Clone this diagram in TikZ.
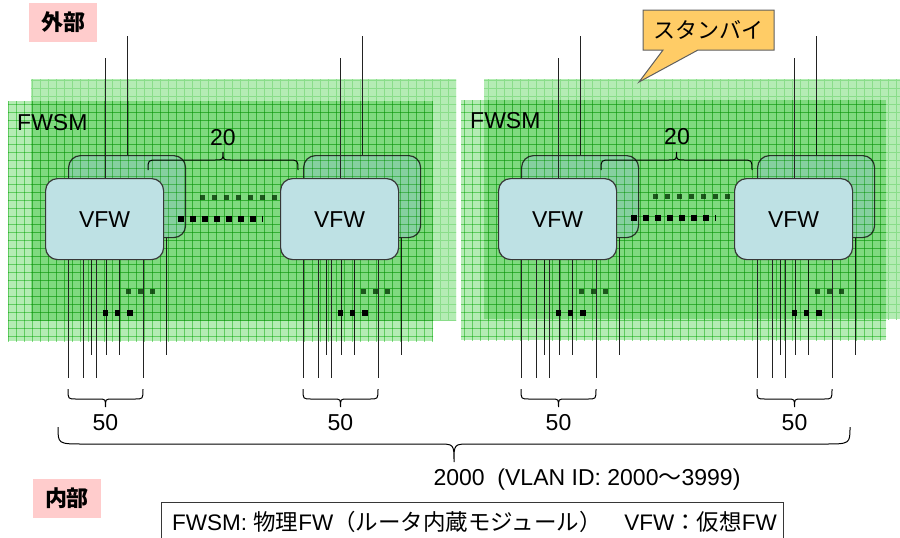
\documentclass[tikz,border=0pt]{standalone}
\usepackage{fontspec}
\setmainfont{Liberation Sans}
\newfontfamily\jp{Noto Sans CJK JP}
\definecolor{panelgreen}{RGB}{180,236,180}
\definecolor{gridgreen}{RGB}{138,221,138}
\definecolor{vfwblue}{RGB}{190,225,228}
\definecolor{boxline}{RGB}{55,55,55}
\definecolor{wirec}{RGB}{35,35,35}
\definecolor{backdot}{RGB}{40,95,40}
\definecolor{pinkbg}{RGB}{255,204,204}
\definecolor{calloutbg}{RGB}{255,204,102}
\definecolor{calloutline}{RGB}{95,95,95}

% textured green panel: flat fill plus a fine grid
\newcommand\greenpanel[4]{%
  \fill[panelgreen] ({#1},{#2}) rectangle ({#3},{#4});
  \begin{scope}
    \clip ({#1},{#2}) rectangle ({#3},{#4});
    \foreach \gx in {0,8,...,904}
      \draw[gridgreen, line width=0.55pt] (\gx,0) -- (\gx,540);
    \foreach \gy in {0,8,...,544}
      \draw[gridgreen, line width=0.55pt] (0,\gy) -- (904,\gy);
  \end{scope}}

% horizontal curly brace: x1, x2, y of ends, y of bar, y of tip, end radius, tip radius
\newcommand\hbrace[7]{%
  \draw[bracestyle] (#1,#3) .. controls (#1,#4) .. ({#1+#6},#4)
    -- ({(#1+#2)/2-#7},#4) .. controls ({(#1+#2)/2},#4) .. ({(#1+#2)/2},#5)
    .. controls ({(#1+#2)/2},#4) .. ({(#1+#2)/2+#7},#4)
    -- ({#2-#6},#4) .. controls (#2,#4) .. (#2,#3);}

% rear VFW of a pair: #1 name, #2 left x of the front VFW
\newcommand\vfwback[2]{%
  \node[backbox, anchor=north west] (#1b) at ({#2+23},155) {};
  \draw[wire] ([xshift=59pt]#1b.north west) -- ++(0,-119);
  \foreach \d in {23,38,51,98}
    \draw[wire] ([xshift=\d pt]#1b.south west) -- ++(0,117);
  \foreach \d in {60.5,72.5,84.5}
    \fill[backdot] ({#2+23+\d-2.5},288.5) rectangle ++(5,5);}

% front VFW of a pair with its 50 links
\newcommand\vfwfront[2]{%
  \node[frontbox, anchor=north west] (#1f) at (#2,178) {VFW};
  \draw[wire] ([xshift=60pt]#1f.north west) -- ++(0,-120);
  \foreach \d in {23,38,51,98}
    \draw[wire] ([xshift=\d pt]#1f.south west) -- ++(0,118);
  \foreach \d in {60.5,72.5,85}
    \fill[black] ({#2+\d-2.75},310.25) rectangle ++(5.5,5.5);
  \hbrace{#2+23}{#2+98}{389}{399}{407}{8}{7}
  \node[lbl] (#1n) at ({#2+60.5},423) {50};}

\begin{document}
\begin{tikzpicture}[x=1pt, y=-1pt,
  frontbox/.style={draw=boxline, line width=1.2pt, fill=vfwblue, rounded corners=12pt,
    minimum width=118pt, minimum height=81pt, inner sep=0pt, font=\fontsize{23}{26}\selectfont},
  backbox/.style={draw=boxline, line width=1.2pt, fill=vfwblue, rounded corners=12pt,
    minimum width=117pt, minimum height=82pt, inner sep=0pt},
  wire/.style={draw=wirec, line width=0.9pt},
  bracestyle/.style={draw=black, line width=1pt},
  lbl/.style={font=\fontsize{23}{26}\selectfont, inner sep=0pt},
  tag/.style={fill=pinkbg, minimum width=68pt, minimum height=39pt, inner sep=0pt,
    font=\jp\bfseries\fontsize{22}{24}\selectfont}]
\useasboundingbox (0,0) rectangle (900,538);

% ---------- rear layer ----------
\greenpanel{31}{79}{456}{320}
\greenpanel{484}{79}{909}{319}
\vfwback{la}{45}
\vfwback{lb}{280}
\vfwback{ra}{498}
\vfwback{rb}{734}
\draw[backdot, line width=5pt, dash pattern=on 5pt off 7pt] (200,197) -- (281,197);
\draw[backdot, line width=5pt, dash pattern=on 5pt off 7pt] (653,196) -- (734,196);

% ---------- front layer ----------
\begin{scope}[blend mode=multiply]
  \greenpanel{8}{101}{433}{341}
  \greenpanel{461}{100}{886}{340}
\end{scope}

\node[lbl, anchor=west] (fwsmL) at (17,123) {FWSM};
\node[lbl, anchor=west] (fwsmR) at (470,121) {FWSM};

\vfwfront{la}{45}
\vfwfront{lb}{280}
\vfwfront{ra}{498}
\vfwfront{rb}{734}

\draw[black, line width=6pt, dash pattern=on 6pt off 6pt] (178,219) -- (263,219);
\draw[black, line width=6pt, dash pattern=on 6pt off 6pt] (631,218) -- (716,218);

\hbrace{148}{298}{170}{160}{152}{10}{8}
\node[lbl] (twentyL) at (223,138) {20};
\hbrace{601}{752}{170}{160}{152}{10}{8}
\node[lbl] (twentyR) at (677,137) {20};

% overall VLAN brace
\hbrace{58}{850}{427}{444}{462}{26}{16}
\node[lbl] (vlan) at (587,480) {2000\ \ (VLAN ID: 2000{\jp ～}3999)};

% inside / outside tags
\node[tag] (outside) at (63,22.5) {外部};
\node[tag] (inside) at (67,498.5) {内部};

% standby callout
\coordinate (cNW) at (643,10);
\coordinate (cSE) at (774,50);
\coordinate (cTip) at (639,82);
\draw[fill=calloutbg, draw=calloutline, line width=1pt]
  (cNW) -| (cSE) -- (698,50) -- (cTip) -- (663,50) -| (cNW) -- cycle;
\node[font=\jp\fontsize{22}{24}\selectfont, inner sep=0pt] (standby) at (708.5,30) {スタンバイ};

% legend
\node[anchor=west, inner sep=0pt, font=\fontsize{22.5}{24}\selectfont] (legend) at (172,522)
  {FWSM: {\jp 物理}FW{\jp （ルータ内蔵モジュール）　}VFW{\jp ：仮想}FW};
\draw[draw=boxline, line width=1pt] (161,545) |- (783,502) -- (783,545);
\end{tikzpicture}
\end{document}
